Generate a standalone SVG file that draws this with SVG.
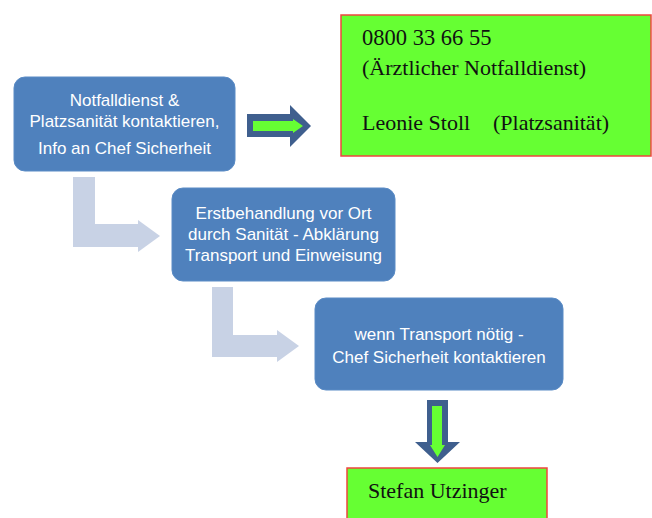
<svg xmlns="http://www.w3.org/2000/svg" width="652" height="518" viewBox="0 0 652 518">
  <style>
    .step { fill: #4f81bd; stroke: #5a8bc5; stroke-width: 1; }
    .step-text { font-family: "Liberation Sans", Arial, sans-serif; font-size: 17px; fill: #ffffff; text-anchor: middle; }
    .contact { fill: #66ff33; stroke: #f0453f; stroke-width: 1.5; }
    .contact-text { font-family: "Liberation Serif", "Times New Roman", serif; font-size: 22px; fill: #111111; }
    .elbow { fill: #c8d2e5; }
    .arrow-outer { fill: #3f5f8e; }
    .arrow-inner { fill: #66ff33; }
  </style>

  <!-- connectors -->
  <g id="connectors">
    <!-- elbow from step 1 to step 2 -->
    <polygon class="elbow" points="73,177 95,177 95,224 138,224 138,220 160,236 138,252 138,247 73,247"/>
    <!-- elbow from step 2 to step 3 -->
    <polygon class="elbow" points="212,287 233,287 233,335 277,335 277,330 299,346 277,362 277,357 212,357"/>
    <!-- block arrow to the contact numbers -->
    <g id="arrow-right">
      <polygon class="arrow-outer" points="247,114 290,114 290,105 311,126 290,147 290,137 247,137"/>
      <polygon class="arrow-inner" points="253,121 293,121 293,119 303,126 293,133 293,131 253,131"/>
    </g>
    <!-- block arrow down to the contact person -->
    <g id="arrow-down">
      <polygon class="arrow-outer" points="427,400 448,400 448,442 460,442 437.5,463 415,442 427,442"/>
      <polygon class="arrow-inner" points="432,406 442,406 442,445 445,445 437.5,457 430,445 432,445"/>
    </g>
  </g>

  <!-- step 1 -->
  <g id="step-notify">
    <rect class="step" x="14" y="77" width="221" height="94" rx="11"/>
    <text class="step-text" x="124.5" y="106">Notfalldienst &amp;</text>
    <text class="step-text" x="124.5" y="127">Platzsanität kontaktieren,</text>
    <text class="step-text" x="124.5" y="154">Info an Chef Sicherheit</text>
  </g>

  <!-- step 2 -->
  <g id="step-treatment">
    <rect class="step" x="172" y="188" width="223" height="93" rx="11"/>
    <text class="step-text" x="283.5" y="219">Erstbehandlung vor Ort</text>
    <text class="step-text" x="283.5" y="240">durch Sanität - Abklärung</text>
    <text class="step-text" x="283.5" y="261">Transport und Einweisung</text>
  </g>

  <!-- step 3 -->
  <g id="step-transport">
    <rect class="step" x="315" y="298" width="248" height="92" rx="11"/>
    <text class="step-text" x="439" y="340">wenn Transport nötig -</text>
    <text class="step-text" x="439" y="363">Chef Sicherheit kontaktieren</text>
  </g>

  <!-- contact numbers -->
  <g id="contact-numbers">
    <rect class="contact" x="341" y="15" width="310" height="141"/>
    <text class="contact-text" x="362" y="45" style="font-size:22.5px">0800 33 66 55</text>
    <text class="contact-text" x="362" y="75">(Ärztlicher Notfalldienst)</text>
    <text class="contact-text" x="362" y="130">Leonie Stoll</text>
    <text class="contact-text" x="493" y="130">(Platzsanität)</text>
  </g>

  <!-- contact person -->
  <g id="contact-chief">
    <rect class="contact" x="347" y="468" width="200" height="60"/>
    <text class="contact-text" x="368" y="498">Stefan Utzinger</text>
  </g>
</svg>
